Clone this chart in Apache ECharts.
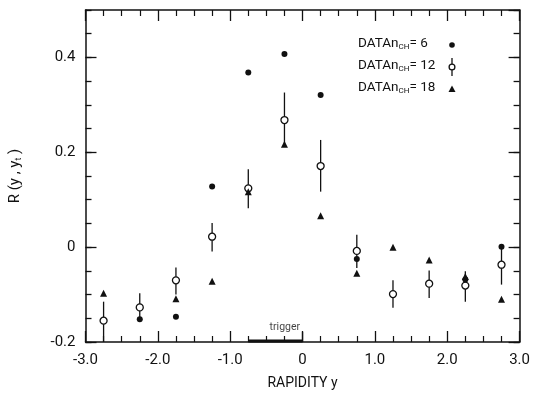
<!DOCTYPE html>
<html>
<head>
<meta charset="utf-8">
<script src="https://cdn.jsdelivr.net/npm/echarts@6/dist/echarts.min.js"></script>
<style>
  html, body { margin: 0; padding: 0; background: #fff; }
  #chart { width: 533px; height: 395px; }
</style>
</head>
<body>
<div id="chart"></div>
<script>
// Rapidity bins (bin centres, width 0.5)
const rapidity = [-2.75, -2.25, -1.75, -1.25, -0.75, -0.25, 0.25, 0.75, 1.25, 1.75, 2.25, 2.75];
// R(y, y_t) for the three charged multiplicities (null = not shown)
const rN6  = [null, -0.152, -0.147, 0.128, 0.368, 0.407, 0.321, -0.025, null, null, -0.068, 0.001];
const rN12 = [-0.155, -0.127, -0.070, 0.022, 0.124, 0.268, 0.171, -0.008, -0.099, -0.077, -0.081, -0.037];
const rN12Low  = [-0.200, -0.157, -0.100, -0.009, 0.082, 0.215, 0.117, -0.044, -0.128, -0.107, -0.115, -0.079];
const rN12High = [-0.115, -0.097, -0.043, 0.051, 0.164, 0.326, 0.226, 0.026, -0.070, -0.049, -0.051, 0.000];
const rN18 = [-0.097, null, -0.109, -0.072, 0.117, 0.217, 0.066, -0.055, 0.000, -0.027, -0.062, -0.110];
// Trigger rapidity window and its label
const triggerSpan = [-0.75, 0];
const triggerTop = -0.179;
const triggerLabelAt = [-0.245, -0.182];
const xTicks = [-3, 3, 1];        // min, max, major step
const yTicks = [-0.2, 0.5, 0.2];  // min, max, major step
const yMinorStep = 0.05;

const FONT = 'Roboto, "DejaVu Sans", sans-serif';
const INK = '#111';

function pts(vals) {
  const out = [];
  vals.forEach((v, i) => { if (v !== null) out.push([rapidity[i], v]); });
  return out;
}
function fmt(v) { return Math.abs(v) < 1e-9 ? '0' : v.toFixed(1); }

function xAxisDef(pos, labels) {
  return {
    type: 'value', position: pos, min: xTicks[0], max: xTicks[1], interval: xTicks[2],
    axisLine: { show: true, onZero: false, lineStyle: { color: INK, width: 1.5 } },
    axisTick: { show: true, inside: true, length: 11, lineStyle: { color: INK, width: 1.3 } },
    minorTick: { show: true, splitNumber: 4, length: 6, lineStyle: { color: INK, width: 1.2 } },
    splitLine: { show: false }, minorSplitLine: { show: false },
    axisLabel: labels ? { show: true, color: INK, fontFamily: FONT, fontSize: 15, margin: 11, formatter: fmt } : { show: false },
    name: labels ? 'RAPIDITY y' : '', nameLocation: 'middle', nameGap: 34,
    nameTextStyle: { color: INK, fontFamily: FONT, fontSize: 14 }
  };
}
function yAxisDef(pos, major, labels) {
  const base = {
    type: 'value', position: pos, min: yTicks[0], max: yTicks[1],
    interval: major ? yTicks[2] : yMinorStep,
    axisLine: { show: major, onZero: false, lineStyle: { color: INK, width: 1.5 } },
    axisTick: { show: true, inside: true, length: major ? 11 : 6, lineStyle: { color: INK, width: 1.3 } },
    splitLine: { show: false },
    axisLabel: { show: false }
  };
  if (labels) {
    base.axisLabel = { show: true, color: INK, fontFamily: FONT, fontSize: 15, margin: 10,
      showMaxLabel: false, formatter: fmt };
    base.name = '{a|R (y , y}{s|t}{a| )}';
    base.nameLocation = 'middle';
    base.nameRotate = 90;
    base.nameGap = 62;
    base.nameTextStyle = {
      color: INK, fontFamily: FONT, fontSize: 15,
      rich: {
        a: { fontFamily: FONT, fontSize: 15, color: INK },
        s: { fontFamily: FONT, fontSize: 9, color: INK, padding: [7, 0, 0, 0] }
      }
    };
  }
  return base;
}

const legendRich = {
  a: { fontFamily: FONT, fontSize: 13.5, color: INK },
  s: { fontFamily: FONT, fontSize: 8, color: INK, padding: [6, 0, 0, 0] }
};
const legendRows = [
  { text: '{a|DATAn}{s|CH}{a|= 6}', y: 45 },
  { text: '{a|DATAn}{s|CH}{a|= 12}', y: 67 },
  { text: '{a|DATAn}{s|CH}{a|= 18}', y: 89 }
];

const chart = echarts.init(document.getElementById('chart'), null, { renderer: 'canvas' });
chart.setOption({
  animation: false,
  backgroundColor: '#fff',
  grid: { left: 80, right: 11, top: 10, bottom: 52.5, containLabel: false },
  xAxis: [xAxisDef('bottom', true), xAxisDef('top', false)],
  yAxis: [yAxisDef('left', true, true), yAxisDef('left', false, false),
          yAxisDef('right', true, false), yAxisDef('right', false, false)],
  graphic: [
    ...legendRows.map(r => ({
      type: 'text', left: 358, top: r.y - 8.5, z: 10,
      style: { text: r.text, rich: legendRich, fill: INK }
    })),
    { type: 'circle', shape: { cx: 452, cy: 45, r: 2.8 }, style: { fill: INK }, z: 10 },
    { type: 'line', shape: { x1: 452, y1: 58, x2: 452, y2: 76 }, style: { stroke: INK, lineWidth: 1.3 }, z: 10 },
    { type: 'circle', shape: { cx: 452, cy: 67, r: 2.9 }, style: { fill: '#fff', stroke: INK, lineWidth: 1.3 }, z: 11 },
    { type: 'polygon', shape: { points: [[452, 85.5], [455.5, 92], [448.5, 92]] }, style: { fill: INK }, z: 10 }
  ],
  series: [
    {
      name: 'errors n=12', type: 'custom', xAxisIndex: 0, yAxisIndex: 0, z: 2,
      data: rapidity.map((x, i) => [x, rN12Low[i], rN12High[i]]),
      renderItem: function (params, api) {
        const p0 = api.coord([api.value(0), api.value(1)]);
        const p1 = api.coord([api.value(0), api.value(2)]);
        return { type: 'line', shape: { x1: p0[0], y1: p0[1], x2: p1[0], y2: p1[1] },
                 style: { stroke: INK, lineWidth: 1.3 } };
      }
    },
    {
      name: 'DATA n=12', type: 'scatter', xAxisIndex: 0, yAxisIndex: 0, z: 3,
      symbol: 'circle', symbolSize: 7, data: pts(rN12),
      itemStyle: { color: '#fff', borderColor: INK, borderWidth: 1.3, opacity: 1 }
    },
    {
      name: 'DATA n=6', type: 'scatter', xAxisIndex: 0, yAxisIndex: 0, z: 4,
      symbol: 'circle', symbolSize: 6, data: pts(rN6),
      itemStyle: { color: INK, opacity: 1 }
    },
    {
      name: 'DATA n=18', type: 'scatter', xAxisIndex: 0, yAxisIndex: 0, z: 4,
      symbol: 'triangle', symbolSize: 7, data: pts(rN18),
      itemStyle: { color: INK, opacity: 1 }
    },
    {
      name: 'trigger window', type: 'custom', xAxisIndex: 0, yAxisIndex: 0, z: 5, silent: true,
      clip: false,
      data: [[triggerSpan[0], triggerSpan[1], yTicks[0], triggerTop]],
      renderItem: function (params, api) {
        const a = api.coord([api.value(0), api.value(2)]);
        const b = api.coord([api.value(1), api.value(2)]);
        const c = api.coord([api.value(1), api.value(3)]);
        return { type: 'group', children: [
          { type: 'line', shape: { x1: a[0], y1: a[1] - 1, x2: b[0], y2: b[1] - 1 },
            style: { stroke: INK, lineWidth: 3 } },
          { type: 'line', shape: { x1: b[0], y1: b[1], x2: c[0], y2: c[1] },
            style: { stroke: INK, lineWidth: 1.3 } }
        ] };
      }
    },
    {
      name: 'trigger label', type: 'scatter', xAxisIndex: 0, yAxisIndex: 0, z: 6, silent: true,
      symbolSize: 1, itemStyle: { color: 'rgba(0,0,0,0)' },
      data: [triggerLabelAt],
      label: { show: true, position: 'top', distance: 0, formatter: 'trigger',
               color: INK, fontFamily: FONT, fontSize: 10.5 }
    }
  ]
});
</script>
</body>
</html>
